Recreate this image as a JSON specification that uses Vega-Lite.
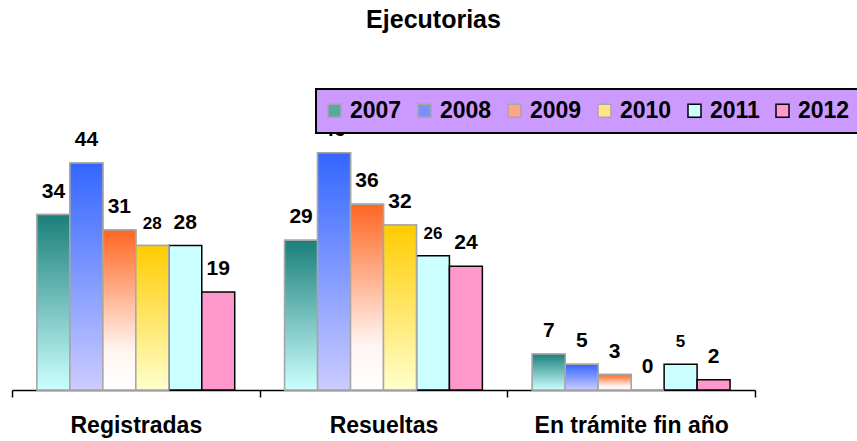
{
  "$schema": "https://vega.github.io/schema/vega-lite/v6.json",
  "autosize": {"type": "none"},
  "width": 743,
  "height": 258,
  "padding": {"left": 12, "top": 132, "right": 102, "bottom": 51},
  "background": "white",
  "title": {"text": "Ejecutorias", "fontSize": 25, "font": "Liberation Sans", "fontWeight": "bold", "color": "black", "anchor": "middle", "dx": 50, "offset": 55},
  "config": {
    "view": {"stroke": null},
    "legend": {"strokeWidth": 2}
  },
  "data": {"values": [
    {"cat": "Registradas", "year": "2007", "value": 34},
    {"cat": "Registradas", "year": "2008", "value": 44},
    {"cat": "Registradas", "year": "2009", "value": 31},
    {"cat": "Registradas", "year": "2010", "value": 28},
    {"cat": "Registradas", "year": "2011", "value": 28},
    {"cat": "Registradas", "year": "2012", "value": 19},
    {"cat": "Resueltas", "year": "2007", "value": 29},
    {"cat": "Resueltas", "year": "2008", "value": 46},
    {"cat": "Resueltas", "year": "2009", "value": 36},
    {"cat": "Resueltas", "year": "2010", "value": 32},
    {"cat": "Resueltas", "year": "2011", "value": 26},
    {"cat": "Resueltas", "year": "2012", "value": 24},
    {"cat": "En trámite fin año", "year": "2007", "value": 7},
    {"cat": "En trámite fin año", "year": "2008", "value": 5},
    {"cat": "En trámite fin año", "year": "2009", "value": 3},
    {"cat": "En trámite fin año", "year": "2010", "value": 0},
    {"cat": "En trámite fin año", "year": "2011", "value": 5},
    {"cat": "En trámite fin año", "year": "2012", "value": 2}
  ]},
  "encoding": {
    "x": {
      "field": "cat", "type": "nominal",
      "sort": ["Registradas", "Resueltas", "En trámite fin año"],
      "scale": {"paddingInner": 0, "paddingOuter": 0},
      "axis": {"title": null, "labelAngle": 0, "labelLimit": 0, "labelFontSize": 23, "labelFont": "Liberation Sans", "labelFontWeight": "bold", "labelColor": "black", "domainColor": "black", "domainWidth": 1.5, "tickColor": "black", "tickWidth": 1.5, "tickSize": 7, "tickBand": "extent", "labelPadding": 17}
    },
    "xOffset": {"field": "year", "type": "nominal", "scale": {"paddingInner": 0, "paddingOuter": 0.757}},
    "y": {"field": "value", "type": "quantitative", "scale": {"domain": [0, 50]}, "axis": null}
  },
  "layer": [
    {
      "mark": {"type": "bar", "strokeWidth": 1.5},
      "encoding": {
        "color": {
          "field": "year", "type": "nominal",
          "scale": {"domain": ["2007", "2008", "2009", "2010", "2011", "2012"], "range": ["#5aa8a4", "#7a90ff", "#ffa488", "#ffe28a", "#ccffff", "#ff99cc"]},
          "legend": {"orient": "none", "legendX": 304, "legendY": -43, "direction": "horizontal", "columns": 6, "title": null, "fillColor": "#cc99ff", "strokeColor": "black", "padding": 10, "symbolType": "square", "symbolSize": 169, "symbolStrokeWidth": 1.5, "symbolOpacity": 1, "symbolOffset": -3, "labelFontSize": 23, "labelFont": "Liberation Sans", "labelFontWeight": "bold", "labelColor": "black", "labelOffset": 4, "columnPadding": 13}
        },
        "stroke": {
          "field": "year", "type": "nominal",
          "scale": {"domain": ["2007", "2008", "2009", "2010", "2011", "2012"], "range": ["#a6a6a6", "#a6a6a6", "#a6a6a6", "#a6a6a6", "#000000", "#000000"]},
          "legend": {"orient": "none", "legendX": 304, "legendY": -43, "direction": "horizontal", "columns": 6, "title": null, "fillColor": "#cc99ff", "strokeColor": "black", "padding": 10, "symbolType": "square", "symbolSize": 169, "symbolStrokeWidth": 1.5, "symbolOpacity": 1, "symbolOffset": -3, "labelFontSize": 23, "labelFont": "Liberation Sans", "labelFontWeight": "bold", "labelColor": "black", "labelOffset": 4, "columnPadding": 13}
        }
      }
    },
    {
      "transform": [{"filter": "datum.year == '2007' || datum.year == '2008' || datum.year == '2009' || datum.year == '2010'"}],
      "mark": {"type": "bar", "stroke": "#a6a6a6", "strokeWidth": 1.5},
      "encoding": {
        "fill": {
          "condition": [
            {"test": "datum.year == '2007'", "value": {"gradient": "linear", "x1": 0, "y1": 0, "x2": 0, "y2": 1, "stops": [{"offset": 0, "color": "#1a7f7a"}, {"offset": 1, "color": "#ccffff"}]}},
            {"test": "datum.year == '2008'", "value": {"gradient": "linear", "x1": 0, "y1": 0, "x2": 0, "y2": 1, "stops": [{"offset": 0, "color": "#3366ff"}, {"offset": 1, "color": "#ccccff"}]}},
            {"test": "datum.year == '2009'", "value": {"gradient": "linear", "x1": 0, "y1": 0, "x2": 0, "y2": 1, "stops": [{"offset": 0, "color": "#ff6622"}, {"offset": 0.75, "color": "#fff4f0"}, {"offset": 1, "color": "#ffffff"}]}}
          ],
          "value": {"gradient": "linear", "x1": 0, "y1": 0, "x2": 0, "y2": 1, "stops": [{"offset": 0, "color": "#ffcc00"}, {"offset": 1, "color": "#ffffcc"}]}
        }
      }
    },
    {
      "mark": {"type": "text", "baseline": "alphabetic", "dy": -17, "font": "Liberation Sans", "fontWeight": "bold", "color": "black"},
      "encoding": {
        "text": {"field": "value", "type": "quantitative"},
        "size": {"condition": {"test": "(datum.cat == 'Registradas' && datum.year == '2010') || (datum.cat != 'Registradas' && datum.year == '2011')", "value": 17}, "value": 21}
      }
    }
  ]
}
